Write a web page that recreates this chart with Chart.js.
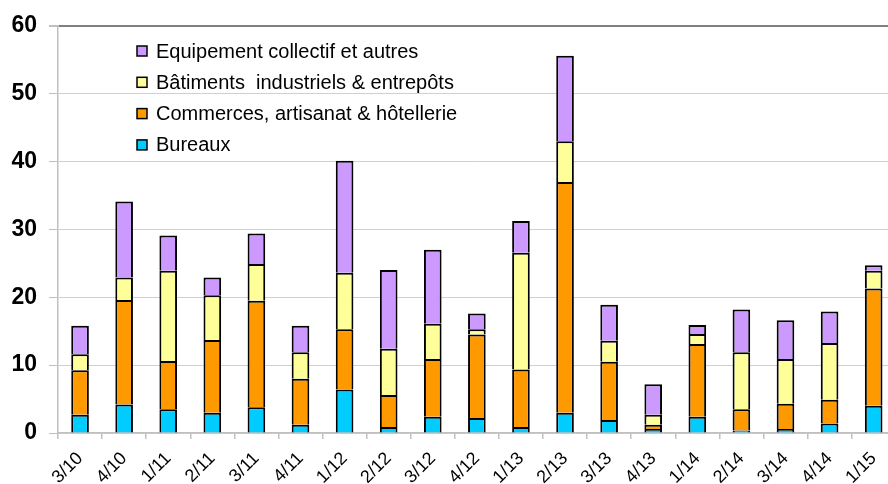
<!DOCTYPE html>
<html>
<head>
<meta charset="utf-8">
<script src="https://cdn.jsdelivr.net/npm/chart.js@4/dist/chart.umd.min.js"></script>
<style>
  html, body { margin: 0; padding: 0; background: #fff; overflow: hidden; }
  #wrap { position: relative; width: 898px; height: 484px; }
</style>
</head>
<body>
<div id="wrap"><canvas id="chart"></canvas></div>
<script>
// quarters (trimestre/année)
const quarters = ['3/10', '4/10', '1/11', '2/11', '3/11', '4/11', '1/12', '2/12', '3/12', '4/12',
                  '1/13', '2/13', '3/13', '4/13', '1/14', '2/14', '3/14', '4/14', '1/15'];

// stacked series, bottom to top
const bureaux    = [2.7, 4.2, 3.5, 3.0, 3.8, 1.2, 6.4, 0.9, 2.4, 2.2, 0.9, 3.0, 1.9, 0.6, 2.4, 0.35, 0.6, 1.4, 4.0];
const commerces  = [6.55, 15.4, 7.1, 10.7, 15.7, 6.8, 8.9, 4.7, 8.5, 12.3, 8.45, 34.0, 8.6, 0.6, 10.7, 3.15, 3.7, 3.5, 17.3];
const batiments  = [2.35, 3.3, 13.3, 6.6, 5.4, 3.9, 8.3, 6.8, 5.2, 0.8, 17.2, 6.0, 3.1, 1.5, 1.5, 8.4, 6.6, 8.35, 2.6];
const equipement = [4.2, 11.2, 5.2, 2.6, 4.5, 3.9, 16.5, 11.6, 10.9, 2.3, 4.7, 12.6, 5.3, 4.5, 1.3, 6.3, 5.7, 4.65, 0.8];

const yTicks = [0, 10, 20, 30, 40, 50, 60];

const FONT = "'Liberation Sans', Arial, sans-serif";

function series(label, data, color) {
    return {
        label: label,
        data: data,
        backgroundColor: color,
        borderColor: '#000',
        borderWidth: 2,
        categoryPercentage: 1.0,
        barPercentage: 0.4
    };
}

// legend drawn inside the plot, top-left, reversed order like the original
const insideLegend = {
    id: 'insideLegend',
    afterDraw(chart) {
        const ctx = chart.ctx;
        const items = chart.data.datasets.slice().reverse();
        ctx.save();
        ctx.font = '20px ' + FONT;
        ctx.textBaseline = 'middle';
        ctx.textAlign = 'left';
        items.forEach((ds, i) => {
            const y = 51 + i * 31.3;
            ctx.fillStyle = ds.backgroundColor;
            ctx.fillRect(137, y - 5, 10, 10);
            ctx.lineWidth = 1.5;
            ctx.strokeStyle = '#000';
            ctx.strokeRect(137, y - 5, 10, 10);
            ctx.fillStyle = '#000';
            ctx.fillText(ds.label, 156, y + 1);
        });
        ctx.restore();
    }
};

new Chart(document.getElementById('chart'), {
    type: 'bar',
    data: {
        labels: quarters,
        datasets: [
            series('Bureaux', bureaux, '#00CCFF'),
            series('Commerces, artisanat & hôtellerie', commerces, '#FF9900'),
            series('Bâtiments  industriels & entrepôts', batiments, '#FFFF99'),
            series('Equipement collectif et autres', equipement, '#CC99FF')
        ]
    },
    options: {
        responsive: true,
        maintainAspectRatio: false,
        animation: false,
        layout: { padding: { top: 21, right: 2, left: 0, bottom: 0 } },
        plugins: {
            legend: { display: false },
            tooltip: { enabled: false }
        },
        scales: {
            x: {
                stacked: true,
                afterFit: (scale) => { scale.height = 51; },
                border: { color: '#c0c0c0', width: 1.5 },
                grid: {
                    offset: true,
                    drawOnChartArea: false,
                    drawTicks: true,
                    tickLength: 6,
                    color: '#c0c0c0',
                    lineWidth: 1.5
                },
                ticks: {
                    minRotation: 45,
                    maxRotation: 45,
                    autoSkip: false,
                    padding: 9,
                    color: '#000',
                    font: { family: FONT, size: 18 }
                }
            },
            y: {
                stacked: true,
                min: 0,
                max: 60,
                afterFit: (scale) => { scale.width = 58; },
                afterBuildTicks: (scale) => { scale.ticks = yTicks.map(v => ({ value: v })); },
                border: { color: '#c0c0c0', width: 1.5 },
                grid: {
                    color: (ctx) => ctx.tick && ctx.tick.value === 60 ? '#808080' : '#d0d0d0',
                    lineWidth: (ctx) => ctx.tick && ctx.tick.value === 60 ? 2 : 1,
                    tickLength: 9,
                    tickColor: '#c0c0c0'
                },
                ticks: {
                    padding: 12,
                    color: '#000',
                    font: { family: FONT, size: 23, weight: 'bold' }
                }
            }
        }
    },
    plugins: [insideLegend]
});
</script>
</body>
</html>
